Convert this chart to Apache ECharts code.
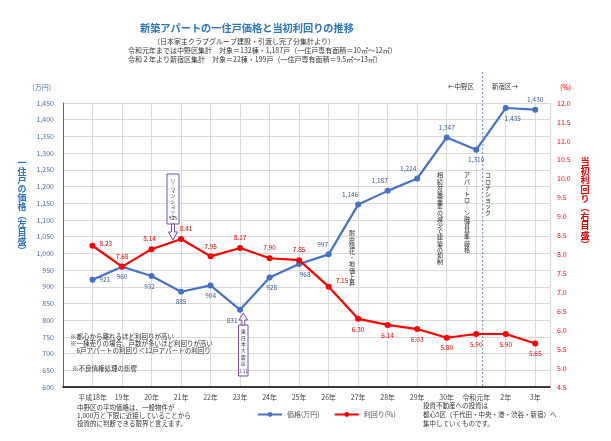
<!DOCTYPE html>
<html><head><meta charset="utf-8">
<script src="https://cdn.jsdelivr.net/npm/echarts@6/dist/echarts.min.js"></script>
<style>html,body{margin:0;padding:0;background:#fff}#c{width:611px;height:441px}</style>
</head><body><div id="c"></div>
<script>
const categories = ['平成18年','19年','20年','21年','22年','23年','24年','25年','26年','27年','28年','29年','30年','令和元年','2年','3年'];
const price = [921,960,932,885,904,831,928,968,997,1146,1187,1224,1347,1310,1435,1430];
const yieldPct = [8.23,7.68,8.14,8.41,7.95,8.17,7.90,7.85,7.15,6.30,6.14,6.03,5.80,5.90,5.90,5.65];
const priceTicks = {min:600, max:1450, interval:50};
const yieldTicks = {min:4.5, max:12, interval:0.5};
const wardSplit = 13.22;

// label placement (style only)
const priceLabelPos = ['right','bottom','bottom','bottom','bottom','bottom','bottom','bottom','top','top','top','top','top','bottom','bottom','top'];
const priceLabelDx  = [0,0,-2,0,0,-8,2,6,-6,-8,-8,-9,0,0,7,0];
const yieldLabelPos = ['right','top','top','top','top','top','top','top','right','bottom','bottom','bottom','bottom','bottom','bottom','bottom'];
const yieldLabelDx  = [0,0,-2,5,0,0,0,0,0,0,0,0,0,0,0,0];
const yieldLabelDy  = [-2,0,0,0,0,0,0,0,-6,0,0,0,0,0,0,0];

const FONT = '"Noto Sans CJK JP", sans-serif';
const BLUE = '#4472C4', RED = '#FF0000';
const fmt = v => v.toLocaleString('en-US');
function vert(s){ return s.replace(/ー/g,'｜').split('').join('\n'); }

const chart = echarts.init(document.getElementById('c'), null, {renderer:'canvas'});
const option = {
  backgroundColor:'#fff',
  textStyle:{fontFamily:FONT},
  title:{text:'新築アパートの一住戸価格と当初利回りの推移', left:135, top:18,
    textStyle:{fontSize:10.2, fontWeight:'bold', color:'#2E75B6', fontFamily:FONT}},
  grid:{left:63, right:61, top:103, bottom:54, containLabel:false},
  legend:{bottom:18, left:252, itemWidth:24, itemHeight:6, itemGap:14,
    textStyle:{fontSize:7, color:'#555', fontFamily:FONT},
    data:['価格(万円)','利回り(%)']},
  xAxis:{type:'value', min:-1, max:15.5, interval:1,
    axisLine:{show:true, onZero:false, lineStyle:{color:'#000', width:1.5}},
    axisTick:{show:false},
    axisLabel:{fontSize:7, color:'#444', margin:7, fontFamily:FONT,
      formatter:v => (Number.isInteger(v) && categories[v]) ? categories[v] : ''},
    splitLine:{show:true, lineStyle:{color:'#d9d9d9', width:1}}},
  yAxis:[
    {type:'value', min:priceTicks.min, max:priceTicks.max, interval:priceTicks.interval,
      name:'(万円)', nameGap:12, nameTextStyle:{fontSize:7, color:'#4a6fa5', align:'right', padding:[0,12,0,0]},
      axisLine:{show:true, onZero:false, lineStyle:{color:'#666', width:1}}, axisTick:{show:false},
      axisLabel:{fontSize:7, color:'#4a6fa5', margin:9, formatter:v=>fmt(v)},
      splitLine:{show:true, lineStyle:{color:'#d9d9d9', width:1}}},
    {type:'value', min:yieldTicks.min, max:yieldTicks.max, interval:yieldTicks.interval,
      name:'(%)', nameGap:12, nameTextStyle:{fontSize:7, color:RED, align:'left', padding:[0,0,0,10]},
      axisLine:{show:false, onZero:false}, axisTick:{show:false},
      axisLabel:{fontSize:7, color:RED, margin:7, formatter:v=>v.toFixed(1)},
      splitLine:{show:false}}
  ],
  series:[
    {name:'価格(万円)', type:'line', yAxisIndex:0,
      data:price.map((v,i)=>({value:[i,v], label:{position:priceLabelPos[i]}})),
      lineStyle:{color:BLUE, width:2.2}, itemStyle:{color:BLUE},
      symbol:'circle', symbolSize:6,
      label:{show:true, fontSize:6.5, color:'#3B5B8C', distance:4, formatter:p=>fmt(p.value[1])},
      labelLayout:p=>({dx:priceLabelDx[p.dataIndex], hideOverlap:false}),
      z:3},
    {name:'利回り(%)', type:'line', yAxisIndex:1,
      data:yieldPct.map((v,i)=>({value:[i,v], label:{position:yieldLabelPos[i]}})),
      lineStyle:{color:RED, width:2.2}, itemStyle:{color:RED},
      symbol:'circle', symbolSize:6,
      label:{show:true, fontSize:6.5, color:'#E00000', distance:4, formatter:p=>p.value[1].toFixed(2)},
      labelLayout:p=>({dx:yieldLabelDx[p.dataIndex], dy:yieldLabelDy[p.dataIndex], hideOverlap:false}),
      z:4}
  ]
};
chart.setOption(option);

const xs = chart.convertToPixel({xAxisIndex:0}, wardSplit);
const yb = chart.convertToPixel({yAxisIndex:0}, priceTicks.min);

function txt(x,y,s,o){ return Object.assign({type:'text', x:x, y:y, style:Object.assign({text:s, font:'6.5px '+FONT, fill:'#333'}, o||{})}); }
function vtxt(x,y,s,size,color,lh,weight){ return {type:'text', x:x, y:y, style:{text:vert(s), font:(weight||'normal')+' '+size+'px '+FONT, fill:color||'#333', align:'center', lineHeight:lh||size+1}}; }

const PURPLE = '#7a4fa8';
const g = [
  txt(244,38,'（日本家主クラブグループ建設・引渡し完了分集計より）',{align:'center', font:'7px '+FONT}),
  txt(128,47,'令和元年までは中野区集計　対象＝132棟・1,187戸（一住戸専有面積＝10㎡〜12㎡）',{font:'7px '+FONT}),
  txt(128,56,'令和２年より新宿区集計　対象＝22棟・199戸（一住戸専有面積＝9.5㎡〜13㎡）',{font:'7px '+FONT}),
  vtxt(22,158,'一住戸の価格︵左目盛︶',9,'#2E75B6',8.8,'bold'),
  vtxt(585,157,'当初利回り︵右目盛︶',9,'#E00000',9.2,'bold'),
  txt(448,83,'←中野区',{font:'6.5px '+FONT}),
  txt(492,83,'新宿区→',{font:'6.5px '+FONT}),
  {type:'line', shape:{x1:xs, y1:72, x2:xs, y2:yb}, style:{stroke:'#5B8FC7', lineWidth:1, lineDash:[2,2]}},
  vtxt(352,230,'耐震強化・地価上昇',6,'#222',6.2),
  vtxt(440,172,'相続対策需要の減少で建築の抑制',6,'#222',6.2),
  vtxt(467,172,'アパートローン融資基準厳格',6,'#222',6.2),
  vtxt(488,172,'コロナショック',6,'#222',6.2),
  {type:'rect', shape:{x:167, y:174, width:12, height:50}, style:{fill:'#fff', stroke:PURPLE, lineWidth:1}},
  vtxt(173,177,'リーマンショック',5,'#333',5.3),
  txt(173,216,'9.15',{font:'4.5px '+FONT, align:'center'}),
  {type:'polygon', shape:{points:[[171.5,224],[174.5,224],[174.5,232],[177.5,232],[173,240],[168.5,232],[171.5,232]]}, style:{fill:'#fff', stroke:PURPLE, lineWidth:1}},
  {type:'rect', shape:{x:238.5, y:325, width:9.5, height:51}, style:{fill:'#fff', stroke:PURPLE, lineWidth:1}},
  vtxt(243.3,328,'東日本大震災',5,'#333',6.4),
  txt(243.3,369,'3.11',{font:'4.5px '+FONT, align:'center'}),
  {type:'polygon', shape:{points:[[241.8,325],[241.8,320],[239,320],[243.3,313],[247.5,320],[244.8,320],[244.8,325]]}, style:{fill:'#fff', stroke:PURPLE, lineWidth:1}},
  txt(70,333,'※都心から離れるほど利回りが高い'),
  txt(70,340,'※一棟売りの場合、戸数が多いほど利回りが高い'),
  txt(70,347,'　6戸アパートの利回り＜12戸アパートの利回り'),
  txt(72,365,'※不良債権処理の影響'),
  txt(77,404,'中野区の平均価格は、一般物件が'),
  txt(77,412,'1,000万と下限に近接していることから'),
  txt(77,420,'投資的に判断できる限界と言えます。'),
  txt(423,402,'投資不動産への投資は'),
  txt(423,411,'都心5区（千代田・中央・港・渋谷・新宿）へ'),
  txt(423,420,'集中していくものです。')
];
chart.setOption({graphic:g});
</script></body></html>
